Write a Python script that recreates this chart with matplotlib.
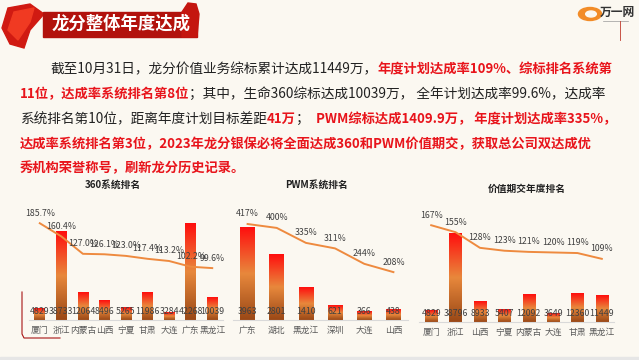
import matplotlib.pyplot as plt
import numpy as np
from matplotlib.colors import LinearSegmentedColormap
from matplotlib.patches import Rectangle, Polygon, Circle
from matplotlib.lines import Line2D

plt.rcParams['font.family'] = ['Noto Sans CJK SC', 'DejaVu Sans']

W, H = 639, 360

# 360 system ranking
cats_360 = ["厦门", "浙江", "内蒙古", "山西", "宁夏", "甘肃", "大连", "广东", "黑龙江"]
vals_360 = [4829, 38733, 12064, 8496, 5265, 11986, 3284, 42268, 10039]
rate_360 = [185.7, 160.4, 127.0, 126.1, 123.0, 117.4, 113.2, 102.2, 99.6]

# PWM system ranking
cats_pwm = ["广东", "湖北", "黑龙江", "深圳", "大连", "山西"]
vals_pwm = [3963, 2801, 1410, 621, 366, 438]
rate_pwm = [417, 400, 335, 311, 244, 208]

# value regular-premium annual ranking
cats_qj = ["厦门", "浙江", "山西", "宁夏", "内蒙古", "大连", "甘肃", "黑龙江"]
vals_qj = [4829, 38796, 8933, 5407, 12092, 3649, 12360, 11449]
rate_qj = [167, 155, 128, 123, 121, 120, 119, 109]

BLACK, RED = "#222222", "#E8141B"
para = [
    (50, 69, [("截至10月31日，龙分价值业务综标累计达成11449万，", BLACK, "normal"),
              ("年度计划达成率109%、综标排名系统第", RED, "bold")]),
    (20, 94, [("11位，达成率系统排名第8位", RED, "bold"),
              ("；其中，生命360综标达成10039万， 全年计划达成率99.6%，达成率", BLACK, "normal")]),
    (20, 119, [("系统排名第10位，距离年度计划目标差距", BLACK, "normal"), ("41万", RED, "bold"),
               ("；  ", BLACK, "normal"), ("PWM综标达成1409.9万， 年度计划达成率335%，", RED, "bold")]),
    (20, 144, [("达成率系统排名第3位，2023年龙分银保必将全面达成360和PWM价值期交，获取总公司双达成优", RED, "bold")]),
    (20, 168, [("秀机构荣誉称号，刷新龙分历史记录。", RED, "bold")]),
]


def fx(x):
    return x / W


def fy(y):
    return 1 - y / H


fig = plt.figure(figsize=(6.39, 3.6), dpi=100)
fig.patch.set_facecolor("#FBF8F1")

# header banner + ribbon decoration
fig.patches.append(Polygon([(fx(8), fy(8)), (fx(30), fy(4)), (fx(44), fy(14)), (fx(30), fy(30)),
                            (fx(24), fy(48)), (fx(10), fy(44)), (fx(2), fy(28))],
                           closed=True, transform=fig.transFigure, color="#D01A12", zorder=1))
fig.patches.append(Polygon([(fx(14), fy(12)), (fx(34), fy(8)), (fx(30), fy(22)), (fx(18), fy(40)), (fx(8), fy(30))],
                           closed=True, transform=fig.transFigure, color="#F03A22", zorder=1))
fig.patches.append(Rectangle((fx(43), fy(37)), fx(154), 25 / H, transform=fig.transFigure,
                             color="#B2120D", zorder=2))
fig.patches.append(Polygon([(fx(182), fy(12)), (fx(188), fy(3)), (fx(196), fy(4)), (fx(199), fy(14)),
                            (fx(197), fy(37)), (fx(182), fy(37))],
                           closed=True, transform=fig.transFigure, color="#C4160F", zorder=2))
fig.text(fx(121), fy(24), "龙分整体年度达成", color="white", fontsize=12.5, fontweight="bold",
         ha="center", va="center", zorder=3)

# logo
fig.patches.append(Circle((fx(590), fy(14)), 6.5 / H, transform=fig.transFigure, color="#F28C28"))
fig.patches.append(Circle((fx(591), fy(14)), 3 / H, transform=fig.transFigure, color="#FBF8F1"))
fig.text(fx(600), fy(12), "万一网", fontsize=8.5, fontweight="bold", color="#333333", va="center")
fig.lines.append(Line2D([fx(603), fx(628)], [fy(21), fy(21)], transform=fig.transFigure,
                        color="#999999", lw=0.5))
fig.lines.append(Line2D([fx(620), fx(620)], [fy(21), fy(40)], transform=fig.transFigure,
                        color="#C0392B", lw=0.6))

# paragraph with mixed colours
fig.canvas.draw()
renderer = fig.canvas.get_renderer()
for x0, y0, segs in para:
    x = x0
    for s, c, wgt in segs:
        size = 9.55 if wgt == "bold" else 9.85
        t = fig.text(fx(x), fy(y0), s, color=c, fontweight=wgt, fontsize=size, va="center", ha="left")
        x += t.get_window_extent(renderer).width

cmap = LinearSegmentedColormap.from_list("bar", ["#9A4816", "#E8883C", "#FF0E0E"])
grad = np.linspace(0, 1, 256).reshape(-1, 1)


def chart(left, right, base, cats, vals, rates, fmt, kv, kr, title, title_x, title_y):
    ax = fig.add_axes([fx(left), 1 - base / H, (right - left) / W, 120 / H])
    ax.set_facecolor("none")
    x = np.arange(len(cats))
    bars = ax.bar(x, vals, width=0.5, color="none", zorder=2)
    for b in bars:
        ax.imshow(grad, extent=(b.get_x(), b.get_x() + b.get_width(), 0, b.get_height()),
                  aspect="auto", origin="lower", cmap=cmap, zorder=2)
    for i, v in enumerate(vals):
        ax.annotate(str(v), (i, 0), xytext=(0, 3), textcoords="offset points", ha="center",
                    va="bottom", fontsize=6.3, color="#404040", fontweight="medium", zorder=4)
    ax.set_xlim(-0.5, len(cats) - 0.5)
    ax.set_ylim(0, max(vals) * kv)
    ax.set_xticks(x)
    ax.set_xticklabels(cats, fontsize=6.3, color="#595959")
    ax.tick_params(length=0, pad=4)
    ax.set_yticks([])
    for s in ("top", "left", "right"):
        ax.spines[s].set_visible(False)
    ax.spines["bottom"].set_color("#D9D9D9")

    ax2 = ax.twinx()
    ax2.plot(x, rates, color="#EE8A3F", lw=1.4, zorder=3)
    for i, r in enumerate(rates):
        ax2.annotate(fmt.format(r), (i, r), xytext=(0, 4), textcoords="offset points", ha="center",
                     va="bottom", fontsize=6.3, color="#404040", fontweight="medium")
    ax2.set_ylim(0, max(rates) * kr)
    ax2.set_yticks([])
    ax2.axis("off")
    fig.text(fx(title_x), fy(title_y), title, fontsize=7, fontweight="bold", color="#222222",
             ha="center", va="center")


chart(29, 223, 320, cats_360, vals_360, rate_360, "{:.1f}%", 1.24, 1.24, "360系统排名", 113, 185)
chart(233, 408, 320, cats_pwm, vals_pwm, rate_pwm, "{}%", 1.30, 1.25, "PWM系统排名", 316, 185)
chart(419, 614, 322, cats_qj, vals_qj, rate_qj, "{}%", 1.35, 1.24, "价值期交年度排名", 527, 189)

# decorative bracket at lower left
fig.lines.append(Line2D([fx(22), fx(22), fx(24), fx(60)], [fy(292), fy(334), fy(338), fy(338)],
                        transform=fig.transFigure, color="#A81414", lw=0.8))
fig.patches.append(Rectangle((0, 0), 1, 3 / H, transform=fig.transFigure, color="#E6E6E6"))

fig.savefig("out.png", dpi=100, facecolor=fig.get_facecolor())
